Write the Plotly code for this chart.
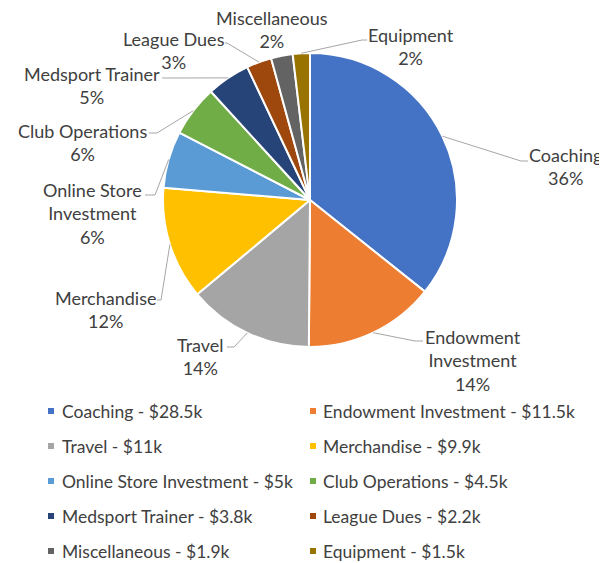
import math
import plotly.graph_objects as go

# ---------------- data ----------------
categories = ["Coaching", "Endowment Investment", "Travel", "Merchandise",
              "Online Store Investment", "Club Operations", "Medsport Trainer",
              "League Dues", "Miscellaneous", "Equipment"]
values_k = [28.5, 11.5, 11, 9.9, 5, 4.5, 3.8, 2.2, 1.9, 1.5]
value_text = ["$28.5k", "$11.5k", "$11k", "$9.9k", "$5k", "$4.5k", "$3.8k",
              "$2.2k", "$1.9k", "$1.5k"]
label_lines = ["Coaching", "Endowment<br>Investment", "Travel", "Merchandise",
               "Online Store<br>Investment", "Club Operations", "Medsport Trainer",
               "League Dues", "Miscellaneous", "Equipment"]

# ---------------- style / layout ----------------
colors = ["#4472C4", "#ED7D31", "#A5A5A5", "#FFC000", "#5B9BD5",
          "#70AD47", "#264478", "#9E480E", "#636363", "#997300"]
W, H = 607, 563          # browser window
OFF = 8                  # page body margin
FW, FH = W - OFF, H - OFF
CX, CY, R = 310, 200, 147          # pie centre / radius in window pixels
FONT = "Lato"
TXT = "#404040"
FS_LABEL = 18
FS_LEG = 17.5

# label block centres (px) and leader line elbow/end (px); None = no leader line
label_pos = [(565, 166), (473, 360), (200, 356), (105, 309), (93, 213),
             (82, 142), (92, 85), (174, 51), (272, 29), (411, 47)]
leader = [((521, 161), (528, 161)), ((415, 341), (423, 341)),
          ((234, 347), (227, 347)), ((161, 300), (157, 300)),
          ((155, 195), (145, 195)), ((157, 133), (149, 133)),
          ((170, 78), (162, 78)), ((227, 43), (225, 43)),
          None, ((362, 40), (367, 40))]

legend_sq_x = [51, 313]
legend_txt_x = [60, 321]
legend_y0, legend_dy = 411, 35


def px(x, y):
    return (x - OFF) / FW, 1 - (y - OFF) / FH


total = sum(values_k)

fig = go.Figure()
fig.add_trace(go.Pie(
    labels=categories, values=values_k, sort=False, direction="clockwise",
    rotation=0, textinfo="none", hoverinfo="label+value+percent",
    marker=dict(colors=colors, line=dict(color="white", width=2)),
    domain=dict(x=[(CX - R - OFF) / FW, (CX + R - OFF) / FW],
                y=[1 - (CY + R - OFF) / FH, 1 - (CY - R - OFF) / FH]),
    showlegend=False,
))

shapes = []
annotations = []
cum = 0.0
for i, (cat, v) in enumerate(zip(categories, values_k)):
    mid = (cum + v / 2) / total
    cum += v
    ang = 2 * math.pi * mid
    ex, ey = CX + R * math.sin(ang), CY - R * math.cos(ang)
    pct = round(100 * v / total)
    lx, ly = label_pos[i]
    annotations.append(dict(
        x=px(lx, ly)[0], y=px(lx, ly)[1], xref="paper", yref="paper",
        text=f"{label_lines[i]}<br>{pct}%", showarrow=False, align="center",
        xanchor="center", yanchor="middle",
        font=dict(family=FONT, size=FS_LABEL, color=TXT)))
    if leader[i] is not None:
        (bx, by), (tx, ty) = leader[i]
        p0, p1, p2 = px(ex, ey), px(bx, by), px(tx, ty)
        shapes.append(dict(
            type="path", xref="paper", yref="paper",
            path=f"M {p0[0]} {p0[1]} L {p1[0]} {p1[1]} L {p2[0]} {p2[1]}",
            line=dict(color="#A6A6A6", width=1)))
    # legend entry
    row, col = divmod(i, 2)
    yy = legend_y0 + row * legend_dy
    a, b = px(legend_sq_x[col] - 3, yy - 3), px(legend_sq_x[col] + 3, yy + 3)
    shapes.append(dict(type="rect", xref="paper", yref="paper",
                       x0=a[0], y0=a[1], x1=b[0], y1=b[1],
                       fillcolor=colors[i], line=dict(width=0)))
    t = px(legend_txt_x[col], yy)
    annotations.append(dict(
        x=t[0], y=t[1], xref="paper", yref="paper",
        text=f"{cat} - {value_text[i]}", showarrow=False,
        xanchor="left", yanchor="middle",
        font=dict(family=FONT, size=FS_LEG, color=TXT)))

fig.update_layout(
    width=FW, height=FH, margin=dict(l=0, r=0, t=0, b=0),
    paper_bgcolor="white", plot_bgcolor="white",
    shapes=shapes, annotations=annotations,
    font=dict(family=FONT, size=FS_LEG, color=TXT),
)
fig.write_html("out.html")
